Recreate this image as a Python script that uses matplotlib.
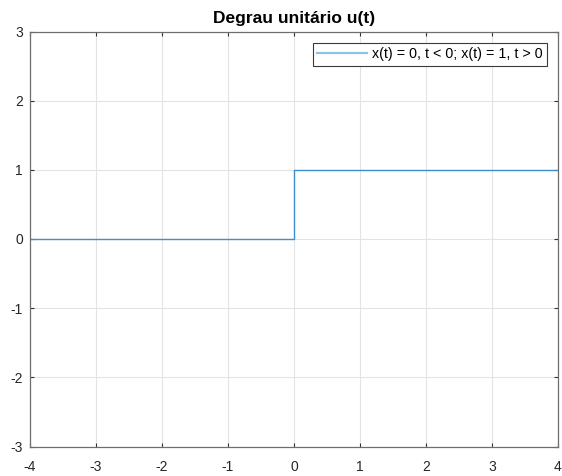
import matplotlib
matplotlib.use('Agg')
from matplotlib import pyplot as plt

# step signal u(t)
t = [-4, 0, 0, 4]
x = [0, 0, 1, 1]
x_ticks = [-4, -3, -2, -1, 0, 1, 2, 3, 4]
y_ticks = [-3, -2, -1, 0, 1, 2, 3]
title = 'Degrau unitário u(t)'
label = 'x(t) = 0, t < 0; x(t) = 1, t > 0'

plt.rcParams['font.family'] = ['Liberation Sans', 'DejaVu Sans']

fig = plt.figure(figsize=(5.62, 4.76), dpi=100)
ax = fig.add_axes([30 / 562, 1 - 446.5 / 476, 528 / 562, 415 / 476])

ax.plot(t, x, color='#3d8fd1', linewidth=1.0, label=label)

ax.set_xlim(-4, 4)
ax.set_ylim(-3, 3)
ax.set_xticks(x_ticks)
ax.set_yticks(y_ticks)
ax.set_xticklabels([str(v) for v in x_ticks])
ax.set_yticklabels([str(v) for v in y_ticks])
ax.grid(True, color='#e3e3e3', linewidth=0.8)
ax.set_axisbelow(True)
ax.tick_params(direction='in', length=3, width=0.8, color='#333333',
               top=True, right=True, labelsize=10,
               labelcolor='#262626')
ax.tick_params(axis='x', pad=10)
ax.tick_params(axis='y', pad=5)
for s in ax.spines.values():
    s.set_color('#6e6e6e')
    s.set_linewidth(0.9)

ax.set_title(title, fontsize=12.5, fontweight='bold', pad=6)

leg = ax.legend(loc='upper right', fontsize=10.3, handlelength=3.5,
                fancybox=False, framealpha=1, edgecolor='#3a3a3a',
                borderaxespad=0.8, borderpad=0.3, handletextpad=0.3)
leg.get_frame().set_linewidth(0.8)
leg.get_lines()[0].set_color('#8fc0e6')
leg.get_lines()[0].set_linewidth(1.6)

fig.savefig('out.png', dpi=100)
